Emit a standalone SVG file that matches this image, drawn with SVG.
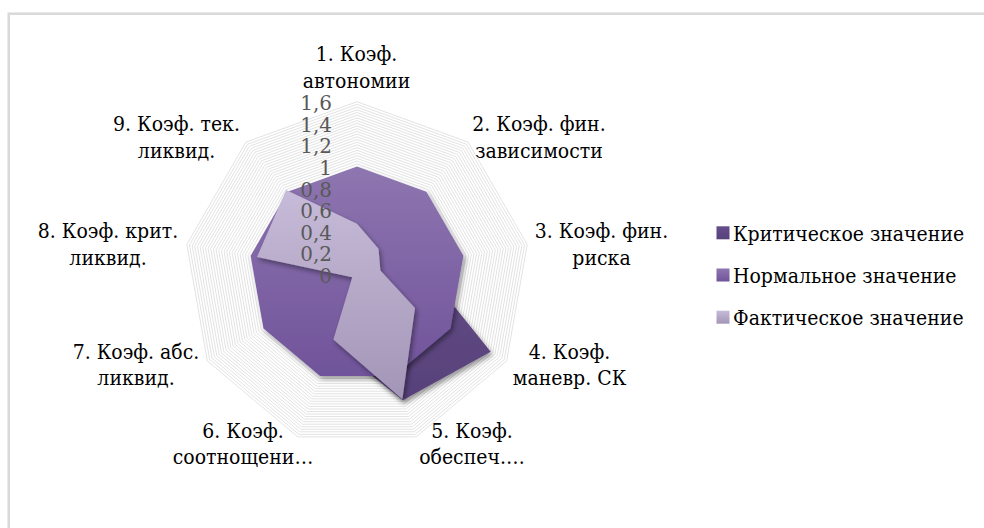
<svg xmlns="http://www.w3.org/2000/svg" xmlns:xlink="http://www.w3.org/1999/xlink" width="984" height="528" viewBox="0 0 984 528">
<style>
text{font-family:'DejaVu Serif','Liberation Serif',serif;font-size:21px;fill:#000}
.c{text-anchor:middle}
.ax{text-anchor:end;fill:#595959}
.ring{fill:none;stroke:#e3e3e3;stroke-width:1}
</style>
<defs>
<path id="nine" class="ring" vector-effect="non-scaling-stroke" d="M0,-1 L0.642788,-0.766044 L0.984808,-0.173648 L0.866025,0.5 L0.34202,0.939693 L-0.34202,0.939693 L-0.866025,0.5 L-0.984808,-0.173648 L-0.642788,-0.766044 Z"/>
<linearGradient id="gCrit" x1="0" y1="0" x2="0" y2="1"><stop offset="0" stop-color="#654d8a"/><stop offset="1" stop-color="#58427a"/></linearGradient>
<linearGradient id="gNorm" x1="0" y1="0" x2="0" y2="1"><stop offset="0" stop-color="#8e76b0"/><stop offset="1" stop-color="#70539a"/></linearGradient>
<linearGradient id="gFakt" x1="0" y1="0" x2="0" y2="1"><stop offset="0" stop-color="#c6bbd8"/><stop offset="1" stop-color="#a395b6"/></linearGradient>
<filter id="sh" x="-20%" y="-20%" width="140%" height="140%"><feDropShadow dx="2" dy="3" stdDeviation="2.5" flood-color="#000" flood-opacity="0.4"/></filter>
</defs>
<rect x="0" y="0" width="984" height="528" fill="#fff"/>
<rect id="frame" x="8.7" y="13.7" width="1000" height="540" fill="#fff" stroke="#d9d9d9" stroke-width="2.5"/>
<g id="grid" transform="translate(357,274.5)">
<use href="#nine" transform="scale(110.7)"/><use href="#nine" transform="scale(113.4)"/><use href="#nine" transform="scale(116.1)"/><use href="#nine" transform="scale(118.8)"/>
<use href="#nine" transform="scale(121.5)"/><use href="#nine" transform="scale(124.2)"/><use href="#nine" transform="scale(126.9)"/><use href="#nine" transform="scale(129.6)"/>
<use href="#nine" transform="scale(132.3)"/><use href="#nine" transform="scale(135)"/><use href="#nine" transform="scale(137.7)"/><use href="#nine" transform="scale(140.4)"/>
<use href="#nine" transform="scale(143.1)"/><use href="#nine" transform="scale(145.8)"/><use href="#nine" transform="scale(148.5)"/><use href="#nine" transform="scale(151.2)"/>
<use href="#nine" transform="scale(153.9)"/><use href="#nine" transform="scale(156.6)"/><use href="#nine" transform="scale(159.3)"/><use href="#nine" transform="scale(162)"/>
<use href="#nine" transform="scale(164.7)"/><use href="#nine" transform="scale(167.4)"/><use href="#nine" transform="scale(170.1)"/><use href="#nine" transform="scale(172.8)"/>
</g>
<g id="series">
<polygon id="critical" fill="url(#gCrit)" filter="url(#sh)" points="357,220.5 405.6,216.6 419.7,263.4 490.7,351.7 402.8,400.3 331.9,343.5 328.9,290.7 293.2,263.2 301.5,208.3"/>
<polygon id="normal" fill="url(#gNorm)" filter="url(#sh)" points="357,166.5 426.4,191.8 463.4,255.7 450.5,328.5 393.9,376 320.1,376 263.5,328.5 250.6,255.7 287.6,191.8"/>
<polygon id="fakt" fill="url(#gFakt)" filter="url(#sh)" points="357,223.7 378.5,248.8 380.4,270.4 415,308 402.4,399.3 333.4,339.4 352.3,277.2 257,256.9 286.2,190.1"/>
</g>
<g id="axis-values">
<text class="ax" transform="translate(332,283) scale(0.95,1)">0</text>
<text class="ax" transform="translate(332,261.4) scale(0.95,1)">0,2</text>
<text class="ax" transform="translate(332,239.8) scale(0.95,1)">0,4</text>
<text class="ax" transform="translate(332,218.2) scale(0.95,1)">0,6</text>
<text class="ax" transform="translate(332,196.6) scale(0.95,1)">0,8</text>
<text class="ax" transform="translate(332,175) scale(0.95,1)">1</text>
<text class="ax" transform="translate(332,153.4) scale(0.95,1)">1,2</text>
<text class="ax" transform="translate(332,131.8) scale(0.95,1)">1,4</text>
<text class="ax" transform="translate(332,110.2) scale(0.95,1)">1,6</text>
</g>
<g id="cat1"><text class="c" transform="translate(356.5,61) scale(0.9,1)"><tspan x="0" y="0">1. Коэф.</tspan><tspan x="0" y="27">автономии</tspan></text></g>
<g id="cat2"><text class="c" transform="translate(539,131) scale(0.9,1)"><tspan x="0" y="0">2. Коэф. фин.</tspan><tspan x="0" y="27">зависимости</tspan></text></g>
<g id="cat3"><text class="c" transform="translate(601.5,238) scale(0.9,1)"><tspan x="0" y="0">3. Коэф. фин.</tspan><tspan x="0" y="27">риска</tspan></text></g>
<g id="cat4"><text class="c" transform="translate(569.5,358.5) scale(0.9,1)"><tspan x="0" y="0">4. Коэф.</tspan><tspan x="0" y="27">маневр. СК</tspan></text></g>
<g id="cat5"><text class="c" transform="translate(472,437.5) scale(0.9,1)"><tspan x="0" y="0">5. Коэф.</tspan><tspan x="0" y="27">обеспеч.…</tspan></text></g>
<g id="cat6"><text class="c" transform="translate(243,437.5) scale(0.9,1)"><tspan x="0" y="0">6. Коэф.</tspan><tspan x="0" y="27">соотнощени…</tspan></text></g>
<g id="cat7"><text class="c" transform="translate(136,358.5) scale(0.9,1)"><tspan x="0" y="0">7. Коэф. абс.</tspan><tspan x="0" y="27">ликвид.</tspan></text></g>
<g id="cat8"><text class="c" transform="translate(108,238) scale(0.9,1)"><tspan x="0" y="0">8. Коэф. крит.</tspan><tspan x="0" y="27">ликвид.</tspan></text></g>
<g id="cat9"><text class="c" transform="translate(176.5,131) scale(0.9,1)"><tspan x="0" y="0">9. Коэф. тек.</tspan><tspan x="0" y="27">ликвид.</tspan></text></g>
<g id="legend">
<g id="leg-crit"><rect x="716.5" y="226.3" width="13" height="13" fill="url(#gCrit)"/><text transform="translate(733,240.8) scale(0.9,1)">Критическое значение</text></g>
<g id="leg-norm"><rect x="716.5" y="268.5" width="13" height="13" fill="url(#gNorm)"/><text transform="translate(733,283) scale(0.9,1)">Нормальное значение</text></g>
<g id="leg-fakt"><rect x="716.5" y="310.7" width="13" height="13" fill="url(#gFakt)"/><text transform="translate(733,325.2) scale(0.9,1)">Фактическое значение</text></g>
</g>
</svg>
